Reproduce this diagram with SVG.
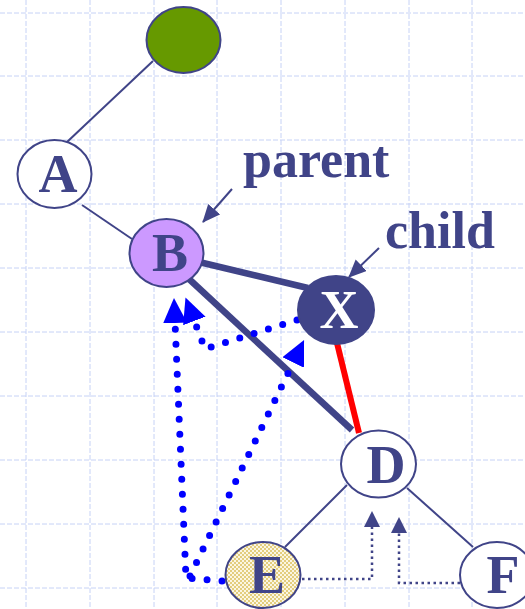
<svg xmlns="http://www.w3.org/2000/svg" width="525" height="609" viewBox="0 0 525 609">
<style>
.grid{stroke:#c6d2f6;stroke-width:1;stroke-dasharray:5 2;fill:none}
.node{stroke:#404488;stroke-width:2}
.lbl{font-family:"Liberation Serif","Times New Roman",serif;font-weight:bold;font-size:54px;fill:#404488;text-anchor:middle}
.note{font-family:"Liberation Serif","Times New Roman",serif;font-weight:bold;font-size:52px;fill:#404488}
.thin{stroke:#404488;stroke-width:2;fill:none}
.thick{stroke:#404488;stroke-width:6.5;fill:none}
.red{stroke:#ff0000;stroke-width:6;fill:none}
.bdot{stroke:#0000ff;stroke-width:7;stroke-linecap:round;stroke-dasharray:0 15;fill:none}
.ndot{stroke:#404488;stroke-width:2.5;stroke-dasharray:2.5 3.5;fill:none}
</style>
<defs>
<pattern id="chk" width="4" height="4" patternUnits="userSpaceOnUse">
<rect width="4" height="4" fill="#fbf6e2"/>
<rect width="2" height="2" fill="#e3cd7e"/>
<rect x="2" y="2" width="2" height="2" fill="#e3cd7e"/>
</pattern>
<marker id="ba" markerUnits="userSpaceOnUse" markerWidth="28" markerHeight="26" refX="1" refY="12" orient="auto">
<path d="M0,0 L25,12 L0,24 z" fill="#0000ff"/>
</marker>
<marker id="na" markerUnits="userSpaceOnUse" markerWidth="18" markerHeight="18" refX="15" refY="8" orient="auto">
<path d="M0,0 L16,8 L0,16 z" fill="#404488"/>
</marker>
<marker id="la" markerUnits="userSpaceOnUse" markerWidth="20" markerHeight="20" refX="17" refY="8" orient="auto">
<path d="M0,0 L18,8 L0,16 z" fill="#404488"/>
</marker>
</defs>
<rect width="525" height="609" fill="#ffffff"/>
<g id="grid">
<path class="grid" d="M26,0V609M90,0V609M154,0V609M217,0V609M281,0V609M345,0V609M409,0V609M472,0V609"/>
<path class="grid" d="M0,13H525M0,76H525M0,140H525M0,204H525M0,268H525M0,332H525M0,396H525M0,460H525M0,524H525M0,588H525"/>
</g>
<g id="connectors">
<line class="thin" x1="153" y1="61" x2="67" y2="142"/>
<line class="thin" x1="82" y1="205" x2="132" y2="239"/>
<line class="thick" x1="199" y1="262" x2="308" y2="288"/>
<line class="thick" x1="189" y1="279" x2="352" y2="430"/>
<line class="red" x1="337" y1="343" x2="359" y2="433"/>
<line class="thin" x1="347" y1="485" x2="285" y2="547"/>
<line class="thin" x1="407" y1="488" x2="473" y2="547"/>
<path class="bdot" d="M222,581 L186,578 L175,322" marker-end="url(#ba)"/>
<path class="bdot" d="M297,320 L205,349 L194,320" marker-end="url(#ba)"/>
<path class="bdot" d="M190,576 L293.6,361.6" marker-end="url(#ba)"/>
<path class="ndot" d="M302,579 H372 V512" marker-end="url(#na)"/>
<path class="ndot" d="M460,583 H399 V518" marker-end="url(#na)"/>
<line class="thin" x1="232" y1="189" x2="203" y2="222" marker-end="url(#la)"/>
<line class="thin" x1="379" y1="248" x2="349" y2="277" marker-end="url(#la)"/>
</g>
<g id="root"><ellipse class="node" cx="183.5" cy="40" rx="37" ry="33" fill="#669900"/></g>
<g id="A"><ellipse class="node" cx="54.5" cy="174" rx="37" ry="34" fill="#ffffff"/><text class="lbl" x="58" y="192">A</text></g>
<g id="B"><ellipse class="node" cx="166.5" cy="253" rx="37" ry="34" fill="#cc99ff"/><text class="lbl" x="170" y="271">B</text></g>
<g id="X"><ellipse class="node" cx="336" cy="310" rx="38" ry="34" fill="#404488"/><text class="lbl" x="339" y="328" style="fill:#ffffff">X</text></g>
<g id="D"><ellipse class="node" cx="378.5" cy="464" rx="37.5" ry="33.5" fill="#ffffff"/><text class="lbl" x="386" y="483">D</text></g>
<g id="E"><ellipse class="node" cx="263" cy="575" rx="37.5" ry="33" fill="url(#chk)"/><text class="lbl" x="267" y="593">E</text></g>
<g id="F"><ellipse class="node" cx="497" cy="575" rx="37" ry="33" fill="#ffffff"/><text class="lbl" x="503" y="593">F</text></g>
<g id="labels">
<text class="note" x="243" y="177">parent</text>
<text class="note" x="385" y="248">child</text>
</g>
</svg>
